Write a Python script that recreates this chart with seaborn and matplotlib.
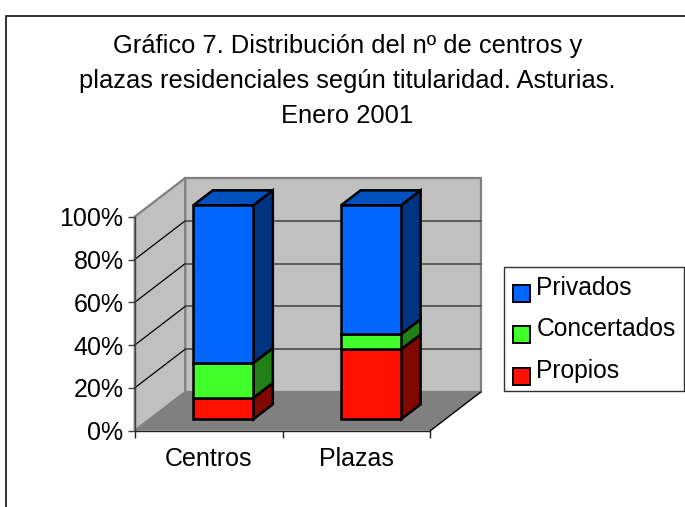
import matplotlib
matplotlib.use("Agg")
import matplotlib.pyplot as plt
import numpy as np
import seaborn as sns
from matplotlib.patches import Patch, Polygon, Rectangle

W, H = 685, 507

categorias = ["Centros", "Plazas"]
propios = [10.0, 32.7]
concertados = [16.3, 7.1]
privados = [73.7, 60.2]
y_ticks = [0, 20, 40, 60, 80, 100]
y_labels = ["0%", "20%", "40%", "60%", "80%", "100%"]
titulo = ("Gráfico 7. Distribución del nº de centros y\n"
          "plazas residenciales según titularidad. Asturias.\n"
          "Enero 2001")

# series, front colour, side colour, top colour
series = [
    ("Propios", propios, "#FF1000", "#800800", None),
    ("Concertados", concertados, "#40FF2A", "#207F15", None),
    ("Privados", privados, "#0066FF", "#003380", "#0050C0"),
]

# fake 3d depth, in data units
wall_dx, wall_dy = 0.342, 18.1
shift_dx, shift_dy = 0.0995, 5.33
bar_dx, bar_dy = 0.132, 7.0

sns.set_style("white", {"text.color": "black", "xtick.color": "black", "ytick.color": "black"})
plt.rcParams["font.family"] = ["Liberation Sans", "DejaVu Sans"]
fs = 18

fig = plt.figure(figsize=(W / 100, H / 100), dpi=100)
ax = fig.add_axes([134.7 / W, (H - 430.7) / H, 295.6 / W, 214 / H])
ax.patch.set_visible(False)

# chart frame
fig.add_artist(Rectangle((6 / W, -0.01), 690 / W, 1.01 - 15.5 / H, transform=fig.transFigure,
                         fill=False, ec="#202020", lw=1.3))

x0, x1 = -0.5, 1.5
wall_kw = dict(clip_on=False, zorder=0.5)
ax.add_patch(Polygon([(x0 + wall_dx, wall_dy), (x1 + wall_dx, wall_dy),
                      (x1 + wall_dx, 100 + wall_dy), (x0 + wall_dx, 100 + wall_dy)],
                     fc="#C0C0C0", ec="#808080", lw=1.6, **wall_kw))
ax.add_patch(Polygon([(x0, 0), (x0 + wall_dx, wall_dy),
                      (x0 + wall_dx, 100 + wall_dy), (x0, 100)],
                     fc="#C0C0C0", ec="#808080", lw=1.6, **wall_kw))
ax.add_patch(Polygon([(x0, 0), (x1, 0), (x1 + wall_dx, wall_dy), (x0 + wall_dx, wall_dy)],
                     fc="#808080", ec="none", **wall_kw))
ax.plot([x1, x1 + wall_dx], [0, wall_dy], color="black", lw=1, clip_on=False, zorder=0.7)

for t in y_ticks[1:-1]:
    ax.plot([x0, x0 + wall_dx], [t, t + wall_dy], color="black", lw=0.9, clip_on=False, zorder=0.7)
    ax.plot([x0 + wall_dx, x1 + wall_dx], [t + wall_dy, t + wall_dy], color="#404040", lw=1.1,
            clip_on=False, zorder=0.7)

bottom = np.zeros(len(categorias))
for name, vals, front, side, top in series:
    n_before = len(ax.patches)
    sns.barplot(x=categorias, y=vals, bottom=bottom, color=front, saturation=1, width=0.406,
                edgecolor="black", linewidth=1.8, ax=ax, zorder=3, clip_on=False)
    for bar in ax.patches[n_before:]:
        bar.set_x(bar.get_x() + shift_dx)
        bar.set_y(bar.get_y() + shift_dy)
        bar.set_facecolor(front)
        xa, xb = bar.get_x(), bar.get_x() + bar.get_width()
        ya, yb = bar.get_y(), bar.get_y() + bar.get_height()
        ax.add_patch(Polygon([(xb, ya), (xb + bar_dx, ya + bar_dy), (xb + bar_dx, yb + bar_dy), (xb, yb)],
                             fc=side, ec="black", lw=1.8, clip_on=False, zorder=2.8))
        if top:
            ax.add_patch(Polygon([(xa, yb), (xb, yb), (xb + bar_dx, yb + bar_dy), (xa + bar_dx, yb + bar_dy)],
                                 fc=top, ec="black", lw=1.8, clip_on=False, zorder=2.8))
    bottom = bottom + np.array(vals)

ax.set_xlim(x0, x1)
ax.set_ylim(0, 100)
ax.set_yticks(y_ticks)
ax.set_yticklabels(y_labels, fontsize=fs)
ax.set_xticks([0, 1])
ax.set_xticklabels(categorias, fontsize=fs)
ax.set_xticks([x0, 0.5, x1], minor=True)
ax.tick_params(axis="x", which="major", length=0, pad=12)
ax.tick_params(axis="x", which="minor", length=5, width=1, color="#202020", bottom=True)
ax.tick_params(axis="y", length=5, width=1, color="#404040", pad=3, left=True)
sns.despine(ax=ax, top=True, right=True)
ax.spines["left"].set_color("#404040")
ax.spines["bottom"].set_color("#202020")
for s in ["left", "bottom"]:
    ax.spines[s].set_linewidth(1)
    ax.spines[s].set_zorder(1)

fig.text(347.5 / W, 1 - 34 / H, titulo, ha="center", va="top", fontsize=18.4, linespacing=1.57)

handles = [Patch(fc=c[2], ec="black", lw=1.4, label=c[0]) for c in reversed(series)]
leg = fig.legend(handles=handles, loc="upper left", bbox_to_anchor=(504.3 / W, 1 - 267.3 / H),
                 fontsize=17.7, frameon=True, fancybox=False, edgecolor="#303030", framealpha=1,
                 handlelength=0.7, handleheight=0.7, handletextpad=0.25, labelspacing=0.71,
                 borderpad=0.35, borderaxespad=0)
leg.get_frame().set_linewidth(1)
for h in leg.legend_handles:
    h.set_y(h.get_y() - 5)

fig.savefig("out.png", dpi=100)
